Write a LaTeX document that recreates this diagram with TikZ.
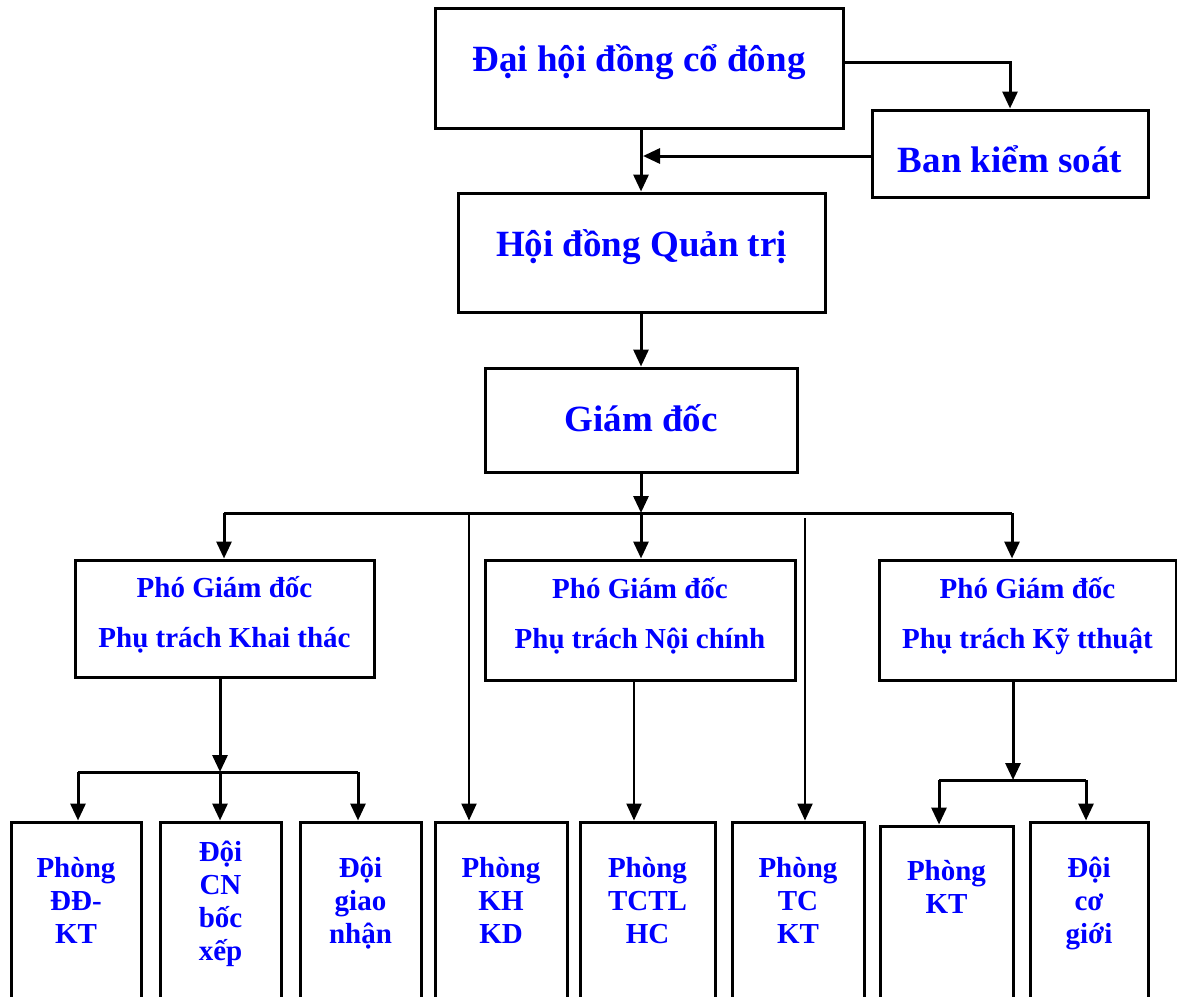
\documentclass[tikz,border=0pt]{standalone}
\usepackage{fontspec}
\setmainfont{Liberation Serif}
\usetikzlibrary{arrows.meta}
\definecolor{txtblue}{RGB}{0,0,255}
\tikzset{
  box/.style={draw=black, line width=3pt, fill=white, inner sep=0pt},
  big/.style={text=txtblue, font=\bfseries\fontsize{37}{40}\selectfont, anchor=base, inner sep=0pt},
  mid/.style={text=txtblue, font=\bfseries\fontsize{29}{50}\selectfont, anchor=base, inner sep=0pt, align=center},
  small/.style={text=txtblue, font=\bfseries\fontsize{29}{33}\selectfont, anchor=base, inner sep=0pt, align=center},
  conn/.style={line width=3pt},
  thin/.style={line width=2.3pt},
  arr/.style={-{Triangle[width=15pt,length=17pt]}},
}
\newcommand{\bx}[5]{\node[box, minimum width=#3pt-#2pt, minimum height=#5pt-#4pt] (#1) at ({(#2+#3)/2},{(#4+#5)/2}) {};}
\begin{document}
\begin{tikzpicture}[x=1pt,y=-1pt]
\clip (0,0) rectangle (1177,996);
\fill[white] (0,0) rectangle (1177,996);
% boxes
\bx{dh}{435}{843}{8}{128}
\bx{ban}{872}{1148}{110}{197}
\bx{hd}{458}{825}{193}{312}
\bx{gd}{485}{797}{368}{472}
\bx{p1}{75}{374}{560}{677}
\bx{p2}{485}{795}{560}{680}
\bx{p3}{879}{1176}{560}{680}
\bx{b1}{11}{141}{822}{1012}
\bx{b2}{160}{281}{822}{1012}
\bx{b3}{300}{421}{822}{1012}
\bx{b4}{435}{567}{822}{1012}
\bx{b5}{580}{715}{822}{1012}
\bx{b6}{732}{864}{822}{1012}
\bx{b7}{880}{1013}{826}{1012}
\bx{b8}{1030}{1148}{822}{1012}
% texts (anchor base = baseline of last line)
\node[big] (tdh) at (639,71) {Đại hội đồng cổ đông};
\node[big] (tban) at (1010,172) {Ban kiểm soát};
\node[big] (thd) at (641.5,256) {Hội đồng Quản trị};
\node[big] (tgd) at (641,431) {Giám đốc};
\node[mid] (tp1) at (224.5,647) {Phó Giám đốc\\Phụ trách Khai thác};
\node[mid] (tp2) at (640,648) {Phó Giám đốc\\Phụ trách Nội chính};
\node[mid] (tp3) at (1027.5,648) {Phó Giám đốc\\Phụ trách Kỹ tthuật};
\node[small] (tb1) at (76,943) {Phòng\\ĐĐ-\\KT};
\node[small] (tb2) at (220.5,960) {Đội\\CN\\bốc\\xếp};
\node[small] (tb3) at (360.5,943) {Đội\\giao\\nhận};
\node[small] (tb4) at (501,943) {Phòng\\KH\\KD};
\node[small] (tb5) at (647.5,943) {Phòng\\TCTL\\HC};
\node[small] (tb6) at (798,943) {Phòng\\TC\\KT};
\node[small] (tb7) at (946.5,913) {Phòng\\KT};
\node[small] (tb8) at (1089,943) {Đội\\cơ\\giới};
% coordinates
\coordinate (dhR) at (843,62);
\coordinate (banL) at (872,156);
\coordinate (join) at (643,156);
\coordinate (bus) at (641,513);
\coordinate (busL) at (224,513);
\coordinate (busR) at (1012,513);
\coordinate (bus4) at (469,513);
\coordinate (bus6) at (805,518);
\coordinate (sub1) at (220,772);
\coordinate (sub1L) at (78,772);
\coordinate (sub1R) at (358,772);
\coordinate (sub3) at (1013,780);
\coordinate (sub3L) at (939,780);
\coordinate (sub3R) at (1086,780);
% connectors
\draw[conn,arr] (dhR) -| (ban.north);
\draw[conn,arr] (banL) -- (join);
\draw[conn,arr] (dh.south -| 641,0) -- (hd.north -| 641,0);
\draw[conn,arr] (hd.south -| 641,0) -- (gd.north -| 641,0);
\draw[conn,arr] (gd.south -| 641,0) -- (bus);
\draw[conn] (busL) -- (busR);
\draw[conn,arr] (busL) -- (p1.north -| busL);
\draw[conn,arr] (bus) -- (p2.north -| bus);
\draw[conn,arr] (busR) -- (p3.north -| busR);
\draw[thin,arr] (bus4) -- (b4.north -| bus4);
\draw[thin,arr] (bus6) -- (b6.north -| bus6);
\draw[conn,arr] (p1.south -| sub1) -- (sub1);
\draw[conn] (sub1L) -- (sub1R);
\draw[conn,arr] (sub1L) -- (b1.north -| sub1L);
\draw[conn,arr] (sub1) -- (b2.north -| sub1);
\draw[conn,arr] (sub1R) -- (b3.north -| sub1R);
\draw[thin,arr] (p2.south -| 634,0) -- (b5.north -| 634,0);
\draw[conn,arr] (p3.south -| sub3) -- (sub3);
\draw[conn] (sub3L) -- (sub3R);
\draw[conn,arr] (sub3L) -- (b7.north -| sub3L);
\draw[conn,arr] (sub3R) -- (b8.north -| sub3R);
\end{tikzpicture}
\end{document}
